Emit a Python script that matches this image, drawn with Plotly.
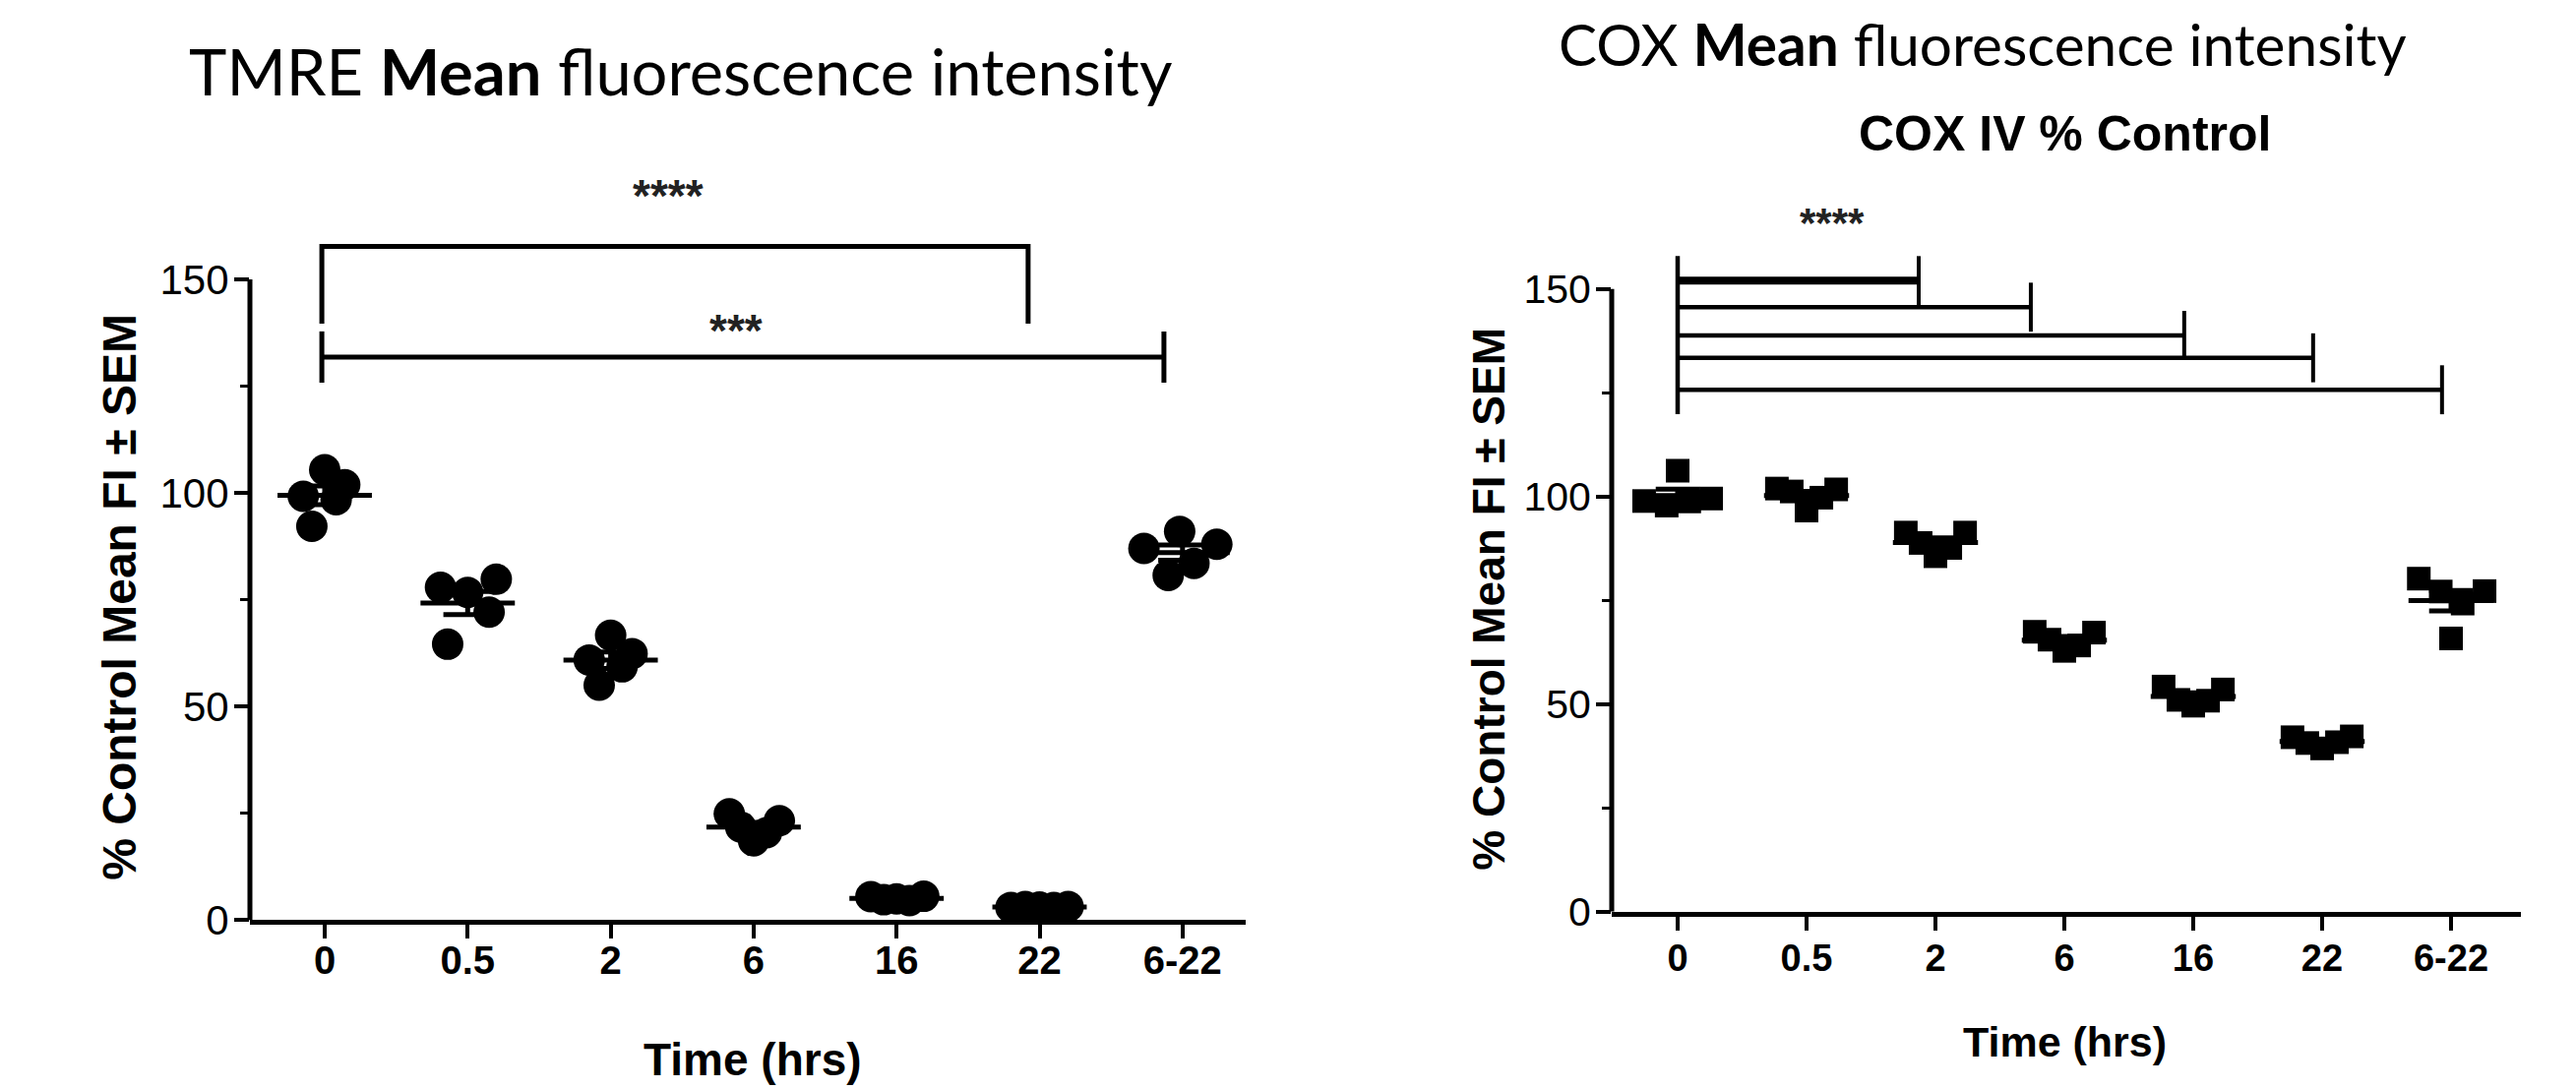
import numpy as np
import plotly.graph_objects as go

# ---------------- data ----------------
categories = ["0", "0.5", "2", "6", "16", "22", "6-22"]

# TMRE % control mean FI, five replicates per time point
tmre_values = [
    [99.2, 105.4, 101.9, 98.4, 92.2],
    [77.9, 76.7, 79.8, 72.1, 64.6],
    [60.9, 66.7, 62.4, 59.3, 55.0],
    [24.9, 21.8, 18.6, 20.5, 23.3],
    [5.5, 4.8, 5.0, 4.6, 5.6],
    [3.0, 3.2, 3.1, 3.0, 3.2],
    [91.0, 87.0, 88.0, 83.5, 80.7],
]
# COX IV % control mean FI, five replicates per time point
cox_values = [
    [98.9, 97.8, 98.8, 99.5, 106.2],
    [101.9, 101.2, 96.6, 99.7, 101.7],
    [91.3, 88.8, 85.6, 87.6, 91.3],
    [67.4, 65.5, 62.8, 64.1, 67.2],
    [54.2, 51.0, 49.6, 50.8, 53.5],
    [42.0, 40.6, 39.3, 40.8, 42.2],
    [80.2, 77.1, 74.2, 77.2, 65.8],
]

# horizontal scatter (beeswarm) offsets of each replicate, in category units
tmre_offsets = [
    [-0.15, 0.0, 0.14, 0.08, -0.09],
    [-0.19, 0.0, 0.20, 0.15, -0.14],
    [-0.15, 0.0, 0.15, 0.08, -0.08],
    [-0.17, -0.09, 0.0, 0.09, 0.18],
    [-0.18, -0.09, 0.0, 0.09, 0.19],
    [-0.20, -0.10, 0.0, 0.10, 0.20],
    [-0.02, -0.27, 0.24, 0.08, -0.10],
]
row5 = [-0.23, -0.115, 0.0, 0.115, 0.23]
cox_offsets = [
    [-0.26, -0.085, 0.09, 0.26, 0.0],
    row5, row5, row5, row5, row5,
    [-0.25, -0.08, 0.09, 0.26, 0.0],
]

y_ticks = [0, 50, 100, 150]
y_minor_ticks = [25, 75, 125]

# significance brackets
# (x_start, x_end, y_line, y_bottom) - open bracket
tmre_open_bracket = (-0.02, 4.92, 157.7, 139.6)
# (x_start, x_end, y_line, half_height) - |---| bracket
tmre_bar_bracket = (-0.02, 5.87, 131.8, 6.0)
tmre_stars = [("****", 2.40, 169.5), ("***", 2.88, 138.0)]

cox_bracket_ends = [1.87, 2.74, 3.93, 4.93, 5.93]
cox_bracket_levels = [152.0, 145.6, 138.8, 133.4, 125.7]
cox_bracket_widths = [8, 4.5, 4.5, 4.5, 4.5]
cox_bracket_start = 0.0
cox_bracket_half = 5.9
cox_stars = [("****", 1.2, 166.0)]

# ---------------- styling ----------------
ARIAL = "Liberation Sans, Arial, sans-serif"
TITLEFONT = "Lato, Carlito, Calibri, sans-serif"
W, H = 2618, 1107

fig = go.Figure()

panels = [
    dict(values=tmre_values, offsets=tmre_offsets, xa="x", ya="y",
         symbol="circle", size=32),
    dict(values=cox_values, offsets=cox_offsets, xa="x2", ya="y2",
         symbol="square", size=24),
]

for p in panels:
    xs, ys = [], []
    for i, (vals, offs) in enumerate(zip(p["values"], p["offsets"])):
        xs += [i + o for o in offs]
        ys += vals
    fig.add_trace(go.Scatter(
        x=xs, y=ys, mode="markers", xaxis=p["xa"], yaxis=p["ya"],
        marker=dict(symbol=p["symbol"], size=p["size"], color="black",
                    line=dict(width=0)),
        cliponaxis=False, showlegend=False, hoverinfo="skip"))
    lx, ly = [], []
    for i, vals in enumerate(p["values"]):
        m = float(np.mean(vals))
        s = float(np.std(vals, ddof=1) / np.sqrt(len(vals)))
        lx += [i - 0.33, i + 0.33, None, i, i, None,
               i - 0.17, i + 0.17, None, i - 0.17, i + 0.17, None]
        ly += [m, m, None, m - s, m + s, None,
               m - s, m - s, None, m + s, m + s, None]
    fig.add_trace(go.Scatter(
        x=lx, y=ly, mode="lines", xaxis=p["xa"], yaxis=p["ya"],
        line=dict(color="black", width=5), cliponaxis=False,
        showlegend=False, hoverinfo="skip"))

shapes = []
# y axis lines (0 -> 150 only)
for ya, xd in (("y", "x domain"), ("y2", "x2 domain")):
    shapes.append(dict(type="line", xref=xd, yref=ya, x0=0, x1=0,
                       y0=0, y1=150, line=dict(color="black", width=5)))

# TMRE brackets
x0, x1, yl, yb = tmre_open_bracket
shapes.append(dict(type="path", xref="x", yref="y",
                   path=f"M {x0},{yb} L {x0},{yl} L {x1},{yl} L {x1},{yb}",
                   line=dict(color="black", width=5)))
x0, x1, yl, hh = tmre_bar_bracket
for seg in ((x0, yl, x1, yl), (x0, yl - hh, x0, yl + hh), (x1, yl - hh, x1, yl + hh)):
    shapes.append(dict(type="line", xref="x", yref="y", x0=seg[0], y0=seg[1],
                       x1=seg[2], y1=seg[3], line=dict(color="black", width=5)))

# COX brackets
shapes.append(dict(type="line", xref="x2", yref="y2", x0=cox_bracket_start,
                   x1=cox_bracket_start,
                   y0=min(cox_bracket_levels) - cox_bracket_half,
                   y1=max(cox_bracket_levels) + cox_bracket_half,
                   line=dict(color="black", width=4.5)))
for xe, yl, lw in zip(cox_bracket_ends, cox_bracket_levels, cox_bracket_widths):
    shapes.append(dict(type="line", xref="x2", yref="y2", x0=cox_bracket_start,
                       x1=xe, y0=yl, y1=yl, line=dict(color="black", width=lw)))
    shapes.append(dict(type="line", xref="x2", yref="y2", x0=xe, x1=xe,
                       y0=yl - cox_bracket_half, y1=yl + cox_bracket_half,
                       line=dict(color="black", width=4)))


def ann(text, x, y, xref, yref, size, family=ARIAL, angle=0, color="black", weight="normal"):
    return dict(text=text, x=x, y=y, xref=xref, yref=yref, showarrow=False,
                xanchor="center", yanchor="middle", textangle=angle,
                font=dict(family=family, size=size, color=color, weight=weight))


annotations = []
for txt, x, y in tmre_stars:
    annotations.append(ann(txt, x, y, "x", "y", 46, color="#222", weight="bold"))
for txt, x, y in cox_stars:
    annotations.append(ann(txt, x, y, "x2", "y2", 42, color="#222", weight="bold"))

annotations += [
    ann("TMRE <b>Mean</b> fluorescence intensity", 683 / W, 1 - 65 / H,
        "paper", "paper", 65, family=TITLEFONT),
    ann("COX <b>Mean</b> fluorescence intensity", 2007 / W, 1 - 37 / H,
        "paper", "paper", 58.5, family=TITLEFONT),
    ann("<b>COX IV % Control</b>", 2090 / W, 1 - 131 / H, "paper", "paper", 50),
    ann("<b>% Control Mean FI ± SEM</b>", 114 / W, 1 - 612 / H, "paper", "paper", 48, angle=-90),
    ann("<b>% Control Mean FI ± SEM</b>", 1505 / W, 1 - 614 / H, "paper", "paper", 46, angle=-90),
    ann("<b>Time (hrs)</b>", 757 / W, 1 - 1093 / H, "paper", "paper", 46),
    ann("<b>Time (hrs)</b>", 2090 / W, 1 - 1074 / H, "paper", "paper", 43),
]


def xaxis(px0, cat0, spacing, right, size, standoff, anchor):
    lo = (px0 - cat0) / spacing
    px1 = cat0 + right * spacing
    return dict(domain=[px0 / W, px1 / W], range=[lo, right], anchor=anchor,
                tickmode="array",
                tickvals=list(range(len(categories))), ticktext=categories,
                ticks="outside", ticklen=14, tickwidth=4, tickcolor="black",
                showline=True, linewidth=5, linecolor="black",
                showgrid=False, zeroline=False, fixedrange=True,
                tickfont=dict(family=ARIAL, size=size, color="black", weight="bold"),
                ticklabelstandoff=standoff)


def yaxis(py0, py150, top, size, anchor):
    ppu = (py0 - py150) / 150.0
    return dict(domain=[1 - py0 / H, 1 - (py0 - top * ppu) / H], range=[0, top],
                anchor=anchor, tickmode="array", tickvals=y_ticks,
                ticks="outside", ticklen=15, tickwidth=4, tickcolor="black",
                minor=dict(tickmode="array", tickvals=y_minor_ticks, ticks="outside",
                           ticklen=9, tickwidth=3, tickcolor="black"),
                showline=False, showgrid=False, zeroline=False, fixedrange=True,
                tickfont=dict(family=ARIAL, size=size, color="black"),
                ticklabelstandoff=-3)


fig.update_layout(
    width=W, height=H, autosize=False,
    margin=dict(l=0, r=0, t=0, b=0),
    paper_bgcolor="white", plot_bgcolor="white",
    showlegend=False,
    xaxis=xaxis(246, 322, 145.3, 6.44, 40, -12, "y"),
    yaxis=yaxis(948, 282, 175, 42, "x"),
    xaxis2=xaxis(1630, 1697, 131.0, 6.54, 38, -4, "y2"),
    yaxis2=yaxis(939, 292, 175, 41, "x2"),
    shapes=shapes,
    annotations=annotations,
)

fig.write_html("out.html")
